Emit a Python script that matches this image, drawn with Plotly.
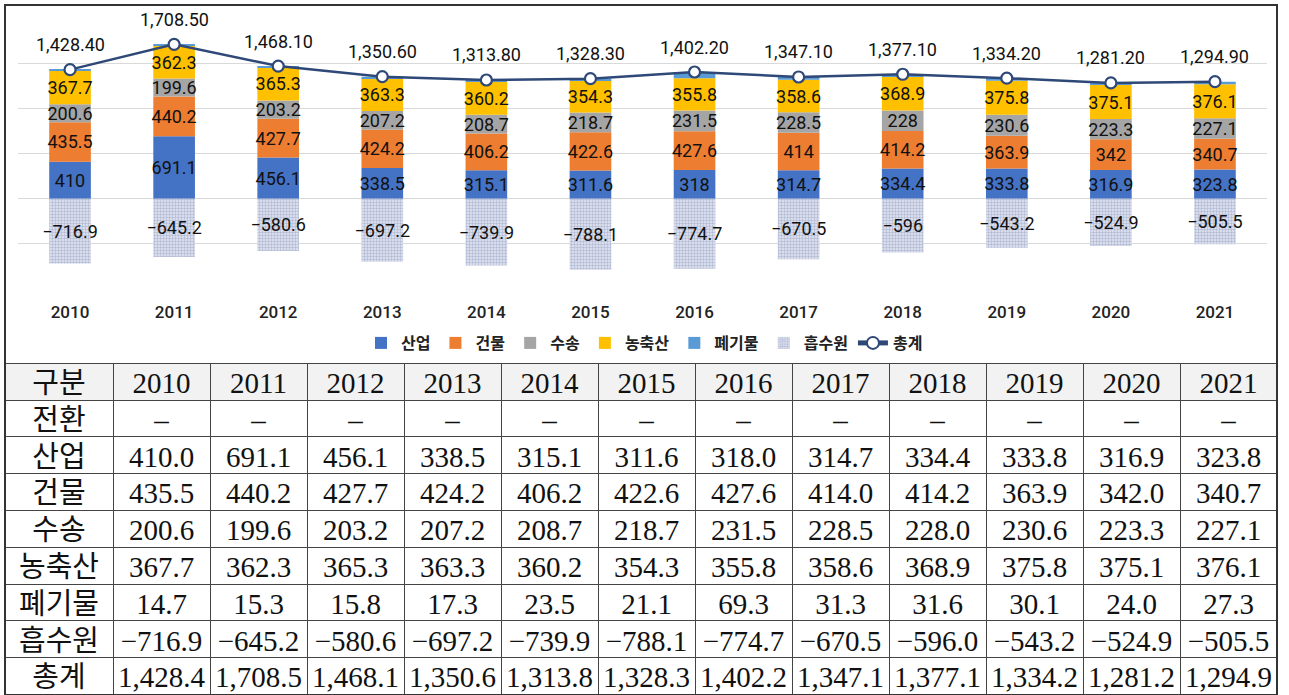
import plotly.graph_objects as go

years = ["2010", "2011", "2012", "2013", "2014", "2015", "2016", "2017", "2018", "2019", "2020", "2021"]
industry = [410.0, 691.1, 456.1, 338.5, 315.1, 311.6, 318.0, 314.7, 334.4, 333.8, 316.9, 323.8]
building = [435.5, 440.2, 427.7, 424.2, 406.2, 422.6, 427.6, 414.0, 414.2, 363.9, 342.0, 340.7]
transport = [200.6, 199.6, 203.2, 207.2, 208.7, 218.7, 231.5, 228.5, 228.0, 230.6, 223.3, 227.1]
agriculture = [367.7, 362.3, 365.3, 363.3, 360.2, 354.3, 355.8, 358.6, 368.9, 375.8, 375.1, 376.1]
waste = [14.7, 15.3, 15.8, 17.3, 23.5, 21.1, 69.3, 31.3, 31.6, 30.1, 24.0, 27.3]
sink = [-716.9, -645.2, -580.6, -697.2, -739.9, -788.1, -774.7, -670.5, -596.0, -543.2, -524.9, -505.5]
total = [1428.4, 1708.5, 1468.1, 1350.6, 1313.8, 1328.3, 1402.2, 1347.1, 1377.1, 1334.2, 1281.2, 1294.9]

row_names = ["전환", "산업", "건물", "수송", "농축산", "폐기물", "흡수원", "총계"]
header_first = "구분"

W, H = 1289, 695
LABEL_FONT = dict(family="Roboto, 'Noto Sans', sans-serif", size=18, color="#111111")

fig = go.Figure()

bar_series = [
    ("산업", industry, "#4472C4", True),
    ("건물", building, "#ED7D31", True),
    ("수송", transport, "#A5A5A5", True),
    ("농축산", agriculture, "#FFC000", True),
    ("폐기물", waste, "#5B9BD5", False),
]
for name, vals, color, show_text in bar_series:
    fig.add_trace(go.Bar(
        x=years, y=vals, name=name,
        marker=dict(color=color, line=dict(width=0)),
        texttemplate="%{y}" if show_text else None,
        textposition="inside" if show_text else "none",
        insidetextanchor="middle",
        textangle=0,
        constraintext="none",
        textfont=LABEL_FONT,
        cliponaxis=False,
        hoverinfo="skip",
    ))

fig.add_trace(go.Bar(
    x=years, y=sink, name="흡수원",
    marker=dict(color="#FFFFFF", line=dict(width=0),
                pattern=dict(shape=".", fgcolor="#8290BA", bgcolor="#E3E7F1", size=3, solidity=0.5)),
    texttemplate="%{y}", textposition="inside", insidetextanchor="middle",
    textangle=0, constraintext="none", textfont=LABEL_FONT,
    cliponaxis=False, hoverinfo="skip",
))

fig.add_trace(go.Scatter(
    x=years, y=total, name="총계", mode="lines+markers",
    line=dict(color="#2E4877", width=2.5),
    marker=dict(symbol="circle", size=11, color="#FFFFFF", line=dict(color="#2E4877", width=2.2)),
    cliponaxis=False, hoverinfo="skip",
))

for i, t in enumerate(total):
    fig.add_annotation(x=i, y=t, xref="x", yref="y", text=f"{t:,.2f}", showarrow=False, yshift=25,
                       font=dict(family="Roboto, 'Noto Sans', sans-serif", size=18, color="#111111"))

# Table
header_vals = [header_first] + years
cols = [row_names]
for i in range(len(years)):
    cols.append([
        "–",
        f"{industry[i]:,.1f}",
        f"{building[i]:,.1f}",
        f"{transport[i]:,.1f}",
        f"{agriculture[i]:,.1f}",
        f"{waste[i]:,.1f}",
        f"{sink[i]:,.1f}".replace("-", "−"),
        f"{total[i]:,.1f}",
    ])

TABLE_FONT = dict(family="'Liberation Serif', 'Noto Sans CJK KR', serif", size=29, color="#111111")
fig.add_trace(go.Table(
    domain=dict(x=[5 / W, 1277 / W], y=[0, 1 - 363 / H]),
    columnwidth=[108] + [97] * 12,
    header=dict(values=header_vals, fill_color="#F2F2F2", line=dict(color="#444444", width=1),
                align="center", height=37, font=TABLE_FONT),
    cells=dict(values=cols, fill_color="#FFFFFF", line=dict(color="#444444", width=1),
               align="center", height=36.8, font=TABLE_FONT),
))

fig.update_layout(
    width=W, height=H,
    margin=dict(l=0, r=0, t=0, b=0),
    paper_bgcolor="#FFFFFF", plot_bgcolor="#FFFFFF",
    barmode="relative", bargap=0.6,
    uniformtext=dict(minsize=18, mode="show"),
    showlegend=True,
    legend=dict(orientation="h", x=0.5, xanchor="center", y=1 - 343 / H, yanchor="middle",
                traceorder="normal",
                font=dict(family="'Noto Sans CJK KR', sans-serif", size=16, color="#222222", weight="bold"),
                bgcolor="rgba(0,0,0,0)", itemsizing="constant"),
    xaxis=dict(domain=[18 / W, 1267 / W], type="category", range=[-0.5, len(years) - 0.5],
               showgrid=False, showline=False,
               ticks="outside", ticklen=8, tickcolor="rgba(0,0,0,0)",
               tickfont=dict(family="Roboto, 'Noto Sans', sans-serif", size=17, color="#222222", weight=500)),
    yaxis=dict(domain=[1 - 289 / H, 1 - 18 / H], range=[-1000, 2000], dtick=500,
               showticklabels=False, showgrid=True, gridcolor="#D9D9D9", gridwidth=1,
               zeroline=False, showline=False),
    shapes=[
        dict(type="rect", xref="paper", yref="paper", x0=5 / W, x1=1277 / W, y0=0, y1=1 - 5 / H,
             line=dict(color="#333333", width=2), fillcolor="rgba(0,0,0,0)", layer="above"),
    ],
)

fig.write_html("out.html", config={"displayModeBar": False},
               post_script="document.body.style.margin='0';document.body.style.overflow='hidden';")
